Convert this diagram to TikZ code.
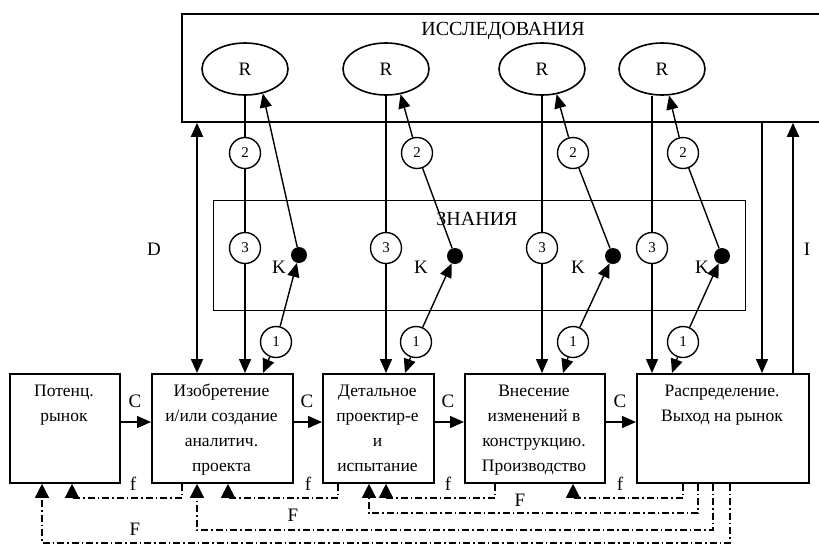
\documentclass[tikz,border=0pt]{standalone}
\usepackage{fontspec}
\setmainfont{Liberation Serif}
\usetikzlibrary{arrows.meta,shapes.geometric}
\begin{document}
\begin{tikzpicture}[x=1pt,y=-1pt,
  ln/.style={line width=1.4pt},
  arr/.style={ln,-{Triangle[length=14pt,width=12pt]}},
  tarr/.style={line width=2pt,-{Triangle[length=14pt,width=12pt]}},
  darr/.style={line width=2pt,{Triangle[length=14pt,width=12pt]}-{Triangle[length=14pt,width=12pt]}},
  box/.style={draw,line width=1.8pt,inner sep=0,anchor=north west},
  circ/.style={draw,fill=white,circle,line width=1.4pt,minimum size=31pt,inner sep=0,font=\fontsize{15}{15}\selectfont},
  ell/.style={draw,fill=white,ellipse,line width=1.6pt,minimum width=86pt,minimum height=52pt,inner sep=0,font=\fontsize{19}{19}\selectfont},
  kdot/.style={circle,fill=black,minimum size=16pt,inner sep=0},
  lbl/.style={font=\fontsize{19}{19}\selectfont,inner sep=0},
  big/.style={font=\fontsize{20}{20}\selectfont,inner sep=0},
  btxt/.style={font=\fontsize{17.5}{25}\selectfont,align=center,inner sep=0,anchor=north},
  fb/.style={line width=1.3pt,dash pattern=on 7pt off 3pt on 1.5pt off 3pt},
  fbarr/.style={fb,-{Triangle[length=14pt,width=14pt]}},
]
\useasboundingbox (0,0) rectangle (819,547);
% research box
\node[box,minimum width=660pt,minimum height=108pt] (res) at (181,13) {};
\node[big] (restxt) at (503,31) {ИССЛЕДОВАНИЯ};
% knowledge box
\node[box,line width=1.4pt,minimum width=532pt,minimum height=110pt] (kn) at (213,200) {};
\node[big] (kntxt) at (477,219) {ЗНАНИЯ};
% ellipses
\node[ell] (R1) at (245,69) {R};
\node[ell] (R2) at (386,69) {R};
\node[ell] (R3) at (542,69) {R};
\node[ell] (R4) at (662,69) {R};
% bottom boxes
\node[box,minimum width=110pt,minimum height=109pt] (b1) at (9,373) {};
\node[box,minimum width=141pt,minimum height=109pt] (b2) at (151,373) {};
\node[box,minimum width=111pt,minimum height=109pt] (b3) at (322,373) {};
\node[box,minimum width=140pt,minimum height=109pt] (b4) at (464,373) {};
\node[box,minimum width=172pt,minimum height=109pt] (b5) at (636,373) {};
\node[btxt] (t1) at (64,378.5) {\strut Потенц.\\рынок};
\node[btxt] (t2) at (221.5,378.5) {\strut Изобретение\\и/или создание\\аналитич.\\проекта};
\node[btxt] (t3) at (377.5,378.5) {\strut Детальное\\проектир-е\\и\\испытание};
\node[btxt] (t4) at (534,378.5) {\strut Внесение\\изменений в\\конструкцию.\\Производство};
\node[btxt] (t5) at (722,378.5) {\strut Распределение.\\Выход на рынок};
% circles
\node[circ] (c2a) at (245,153) {2};
\node[circ] (c2b) at (417,153) {2};
\node[circ] (c2c) at (573,153) {2};
\node[circ] (c2d) at (683,153) {2};
\node[circ] (c3a) at (245,248) {3};
\node[circ] (c3b) at (386,248) {3};
\node[circ] (c3c) at (542,248) {3};
\node[circ] (c3d) at (652,248) {3};
\node[circ] (c1a) at (276,342) {1};
\node[circ] (c1b) at (416,342) {1};
\node[circ] (c1c) at (573,342) {1};
\node[circ] (c1d) at (683,342) {1};
\node[kdot] (k1) at (299,255) {};
\node[kdot] (k2) at (455,256) {};
\node[kdot] (k3) at (613,256) {};
\node[kdot] (k4) at (722,256) {};
\node[lbl] (kl1) at (279,267) {K};
\node[lbl] (kl2) at (421,267) {K};
\node[lbl] (kl3) at (578,267) {K};
\node[lbl] (kl4) at (702,267) {K};
% verticals from R
\draw[ln] (R1) -- (c2a);
\draw[ln] (c2a) -- (c3a);
\draw[arr] (c3a) -- (b2.north -| c3a);
\draw[ln] (R2) -- (c3b);
\draw[arr] (c3b) -- (b3.north -| c3b);
\draw[ln] (R3) -- (c3c);
\draw[arr] (c3c) -- (b4.north -| c3c);
\draw[ln] (R4.south -| c3d) -- (c3d);
\draw[arr] (c3d) -- (b5.north -| c3d);
% slants to R
\draw[arr] (k1) -- (R1.-54);
\draw[ln] (k2) -- (c2b);
\draw[arr] (c2b) -- (R2.-60);
\draw[ln] (k3) -- (c2c);
\draw[arr] (c2c) -- (R3.-60);
\draw[ln] (k4) -- (c2d);
\draw[arr] (c2d) -- (R4.-75);
% circle 1 arrows
\draw[arr] (c1a) -- (k1);
\draw[arr] (c1a) -- (b2.north -| 263,0);
\draw[arr] (c1b) -- (k2);
\draw[arr] (c1b) -- (b3.north -| 405,0);
\draw[arr] (c1c) -- (k3);
\draw[arr] (c1c) -- (b4.north -| 563,0);
\draw[arr] (c1d) -- (k4);
\draw[arr] (c1d) -- (b5.north -| 672,0);
% D and I
\draw[darr] (res.south -| 197,0) -- (b2.north -| 197,0);
\node[lbl] (dl) at (154,249) {D};
\draw[arr] (res.south -| 762,0) -- (b5.north -| 762,0);
\draw[tarr] (b5.north -| 793,0) -- (res.south -| 793,0);
\node[lbl] (il) at (807,249) {I};
% C arrows
\draw[arr] (b1.east |- 0,422) -- (b2.west |- 0,422);
\draw[arr] (b2.east |- 0,422) -- (b3.west |- 0,422);
\draw[arr] (b3.east |- 0,422) -- (b4.west |- 0,422);
\draw[arr] (b4.east |- 0,422) -- (b5.west |- 0,422);
\node[lbl] (cl1) at (135,401) {C};
\node[lbl] (cl2) at (307,401) {C};
\node[lbl] (cl3) at (448,401) {C};
\node[lbl] (cl4) at (620,401) {C};
% feedback f
\draw[fbarr] (b2.south -| 182,0) |- (72,498) -- (b1.south -| 72,0);
\draw[fbarr] (b3.south -| 338,0) |- (228,498) -- (b2.south -| 228,0);
\draw[fbarr] (b4.south -| 495,0) |- (386,498) -- (b3.south -| 386,0);
\draw[fbarr] (b5.south -| 683,0) |- (573,498) -- (b4.south -| 573,0);
% feedback F
\draw[fbarr] (b5.south -| 698,0) |- (369,513) -- (b3.south -| 369,0);
\draw[fbarr] (b5.south -| 713,0) |- (197,530) -- (b2.south -| 197,0);
\draw[fbarr] (b5.south -| 730,0) |- (42,543) -- (b1.south -| 42,0);
\node[lbl,anchor=base] (fl1) at (133,490) {f};
\node[lbl,anchor=base] (fl2) at (308,490) {f};
\node[lbl,anchor=base] (fl3) at (448,490) {f};
\node[lbl,anchor=base] (fl4) at (620,490) {f};
\node[lbl] (Fl1) at (135,529) {F};
\node[lbl] (Fl2) at (293,515) {F};
\node[lbl] (Fl3) at (520,500) {F};
\end{tikzpicture}
\end{document}
